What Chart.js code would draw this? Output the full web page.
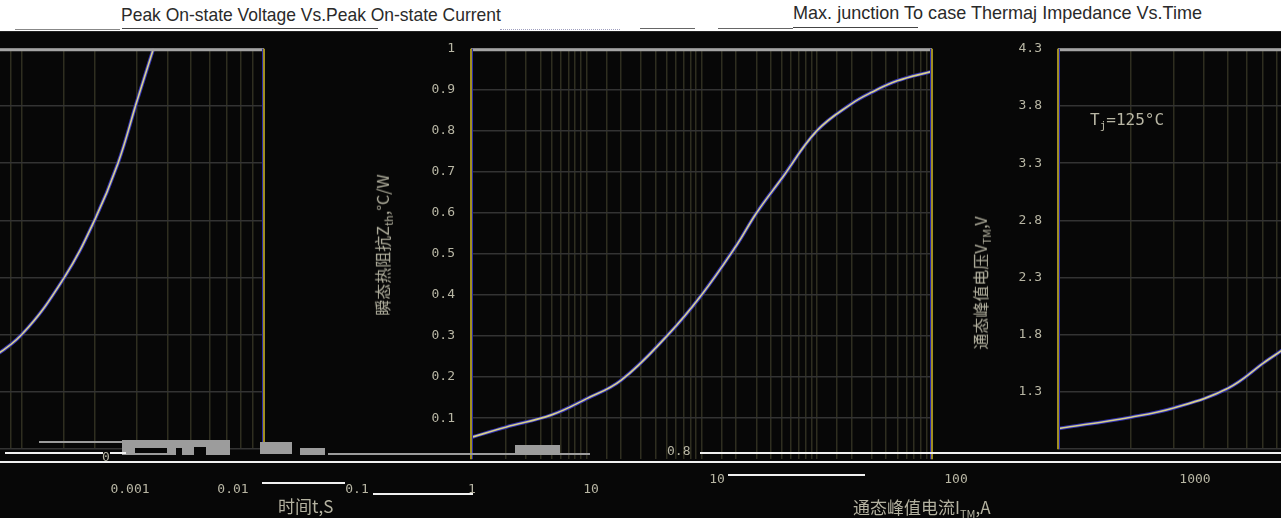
<!DOCTYPE html>
<html>
<head>
<meta charset="utf-8">
<script src="https://cdn.jsdelivr.net/npm/chart.js@4.4.1/dist/chart.umd.min.js"></script>
<style>
    body {
        margin: 0;
        width: 1281px;
        height: 518px;
        background: #070707;
        overflow: hidden;
        position: relative;
        font-family: "Liberation Sans", Arial, sans-serif;
    }
    .abs { position: absolute; }
    #strip { left: 0; top: 0; width: 1281px; height: 31px; background: #fff; border-bottom: 1px solid #222; }
    .title { color: #2a2a2a; font-size: 19px; white-space: nowrap; top: 4px; transform-origin: left center; }
    .lbl { color: #b8b6a4; font-family: "DejaVu Sans Mono", monospace; font-size: 13px; white-space: nowrap; }
    .axtitle { color: #b4b2a0; font-family: "Noto Sans CJK SC", sans-serif; font-size: 16px; white-space: nowrap; }
    .vtitle { transform: translate(-50%, -50%) rotate(-90deg); }
    .wline { background: #f0f0f0; height: 2px; }
    .gblock { background: #9c9c9c; }
</style>
</head>
<body>
<div id="strip" class="abs"></div>
<div class="abs" style="left:15px;top:29px;width:105px;height:1px;background:#888"></div>
<div class="abs" style="left:122px;top:28px;width:256px;height:1px;background:#444"></div>
<div class="abs" style="left:500px;top:29px;width:120px;height:1px;border-top:1px dotted #a0a0c0"></div>
<div class="abs" style="left:640px;top:28px;width:55px;height:1px;background:#666"></div>
<div class="abs" style="left:718px;top:28px;width:75px;height:1px;background:#666"></div>
<div class="abs" style="left:793px;top:27px;width:125px;height:1px;background:#444"></div>
<div class="abs title" style="left:121px;transform:scaleX(0.92);">Peak On-state Voltage Vs.Peak On-state Current</div>
<div class="abs title" style="left:793px;top:2px;transform:scaleX(0.95);">Max. junction To case Thermaj Impedance Vs.Time</div>

<canvas id="thermalChart" class="abs" width="568" height="458" style="left:372px;top:25px"></canvas>
<canvas id="voltageChart" class="abs" width="583" height="448" style="left:968px;top:25px"></canvas>
<canvas id="voltageWrap" class="abs" width="583" height="448" style="left:-311px;top:25px"></canvas>

<div class="abs axtitle vtitle" style="left:383px;top:245px;">瞬态热阻抗Z<sub style="font-size:11px">th</sub>,°C/W</div>
<div class="abs axtitle vtitle" style="left:981px;top:283px;">通态峰值电压V<sub style="font-size:11px">TM</sub>,V</div>
<div class="abs lbl" style="left:1090px;top:110px;font-size:16px;">T<sub style="font-size:11px">j</sub>=125°C</div>

<!-- broken strip along the bottom of the plots -->
<div class="abs gblock" style="left:39px;top:441px;width:83px;height:2px"></div>
<div class="abs gblock" style="left:122px;top:440px;width:108px;height:15px"></div>
<div class="abs" style="left:135px;top:448px;width:32px;height:5px;background:#070707"></div>
<div class="abs" style="left:176px;top:448px;width:6px;height:7px;background:#070707"></div>
<div class="abs" style="left:194px;top:447px;width:12px;height:8px;background:#070707"></div>
<div class="abs gblock" style="left:260px;top:442px;width:32px;height:12px"></div>
<div class="abs gblock" style="left:300px;top:448px;width:25px;height:7px"></div>
<div class="abs gblock" style="left:328px;top:453px;width:262px;height:2px"></div>
<div class="abs gblock" style="left:515px;top:445px;width:45px;height:9px"></div>
<div class="abs wline" style="left:5px;top:452px;width:98px"></div>
<div class="abs wline" style="left:110px;top:452px;width:16px"></div>
<div class="abs wline" style="left:700px;top:452px;width:581px"></div>
<div class="abs wline" style="left:0;top:461px;width:1281px"></div>
<div class="abs wline" style="left:262px;top:482px;width:83px"></div>
<div class="abs wline" style="left:373px;top:493px;width:100px"></div>
<div class="abs wline" style="left:728px;top:474px;width:137px"></div>
<div class="abs lbl" style="left:102px;top:449px;">0</div>
<div class="abs lbl" style="left:667px;top:443px;">0.8</div>

<div id="timeLabels"></div>
<div id="currentLabels"></div>
<div class="abs axtitle" style="left:278px;top:493px;font-size:17px;">时间t,S</div>
<div class="abs axtitle" style="left:853px;top:494px;font-size:17px;">通态峰值电流I<sub style="font-size:11px">TM</sub>,A</div>

<script>
// Transient thermal impedance vs time
const thermalTime = [0.001, 0.002, 0.005, 0.01, 0.02, 0.05, 0.1, 0.2, 0.3, 0.5, 1, 2, 3, 5, 10];
const thermalZth = [0.053, 0.078, 0.108, 0.147, 0.192, 0.30, 0.40, 0.52, 0.60, 0.685, 0.80, 0.866, 0.894, 0.922, 0.945];
const thermalYTicks = [0.1, 0.2, 0.3, 0.4, 0.5, 0.6, 0.7, 0.8, 0.9, 1];
const timeTickLabels = ['0.001', '0.01', '0.1', '1', '10'];

// Peak on-state voltage vs peak on-state current, Tj = 125°C
const onCurrent = [10, 20, 30, 50, 70, 100, 150, 200, 250, 300, 350];
const onVoltage = [0.98, 1.08, 1.16, 1.33, 1.55, 1.80, 2.30, 2.80, 3.30, 3.85, 4.30];
const voltageYTicks = [0.8, 1.3, 1.8, 2.3, 2.8, 3.3, 3.8, 4.3];
const currentTickLabels = ['10', '100', '1000'];

const tickFont = { family: 'DejaVu Sans Mono', size: 13 };
const tickColor = '#b8b6a4';

// frame: grey top edge, yellow side edges with a blue inner line
const framePlugin = {
    id: 'frame',
    afterDatasetsDraw(chart) {
        const { ctx, chartArea: a } = chart;
        ctx.save();
        ctx.lineWidth = 3;
        ctx.strokeStyle = '#a4a4a4';
        ctx.beginPath();
        ctx.moveTo(a.left, a.top + 1);
        ctx.lineTo(a.right, a.top + 1);
        ctx.stroke();
        ctx.lineWidth = 2;
        ctx.strokeStyle = '#a08e22';
        ctx.beginPath();
        ctx.moveTo(a.left, a.top);
        ctx.lineTo(a.left, a.bottom);
        ctx.moveTo(a.right, a.top);
        ctx.lineTo(a.right, a.bottom);
        ctx.stroke();
        ctx.lineWidth = 1;
        ctx.strokeStyle = '#2a2aa8';
        ctx.beginPath();
        ctx.moveTo(a.left + 1.5, a.top);
        ctx.lineTo(a.left + 1.5, a.bottom);
        ctx.moveTo(a.right - 1.5, a.top);
        ctx.lineTo(a.right - 1.5, a.bottom);
        ctx.stroke();
        ctx.restore();
    }
};

function curveSets(xs, ys) {
    const pts = xs.map((x, i) => ({ x: x, y: ys[i] }));
    return [
        { data: pts, borderColor: '#d6d08a', borderWidth: 1.6, pointRadius: 0, tension: 0.4, order: 0 },
        { data: pts, borderColor: '#3434b4', borderWidth: 3.6, pointRadius: 0, tension: 0.4, order: 1 }
    ];
}

function yAxis(min, max, ticksList, width, hideValue) {
    return {
        type: 'linear',
        min: min,
        max: max,
        afterBuildTicks: (axis) => { axis.ticks = ticksList.map(v => ({ value: v })); },
        afterFit: (axis) => { axis.width = width; },
        border: { display: false },
        grid: { color: '#333333', lineWidth: 1.5, drawTicks: false },
        ticks: {
            color: tickColor,
            font: tickFont,
            padding: 16,
            callback: (v) => (v === hideValue ? '' : String(v))
        }
    };
}

function xAxis(min, max) {
    return {
        type: 'logarithmic',
        min: min,
        max: max,
        afterFit: (axis) => { axis.height = 0; },
        border: { display: false },
        grid: { color: '#2f2e20', lineWidth: 1.5, drawTicks: false },
        ticks: { display: false }
    };
}

function baseOptions(x, y, padRight) {
    return {
        responsive: false,
        animation: false,
        devicePixelRatio: 1,
        layout: { padding: { top: 10, right: padRight, bottom: 1, left: 0 } },
        plugins: { legend: { display: false }, tooltip: { enabled: false } },
        scales: { x: x, y: y }
    };
}

new Chart(document.getElementById('thermalChart'), {
    type: 'line',
    data: { datasets: curveSets(thermalTime, thermalZth) },
    options: baseOptions(xAxis(0.001, 10), yAxis(0, 1, thermalYTicks, 99, null), 8),
    plugins: [framePlugin]
});

// the voltage plot runs past the right edge and reappears on the left
['voltageChart', 'voltageWrap'].forEach(id => {
    new Chart(document.getElementById(id), {
        type: 'line',
        data: { datasets: curveSets(onCurrent, onVoltage) },
        options: baseOptions(xAxis(10, 1000), yAxis(0.8, 4.3, voltageYTicks, 90, 0.8), 8),
        plugins: [framePlugin]
    });
});

// x tick labels sit in the shifted strip below the plots
function placeLabels(holderId, labels, xs, top) {
    const holder = document.getElementById(holderId);
    labels.forEach((text, i) => {
        const el = document.createElement('div');
        el.className = 'abs lbl';
        el.style.left = xs[i] + 'px';
        el.style.top = top + 'px';
        el.style.transform = 'translateX(-50%)';
        el.textContent = text;
        holder.appendChild(el);
    });
}
placeLabels('timeLabels', timeTickLabels, [130, 233, 357, 472, 591], 481);
placeLabels('currentLabels', currentTickLabels, [717, 956, 1195], 471);
</script>
</body>
</html>
